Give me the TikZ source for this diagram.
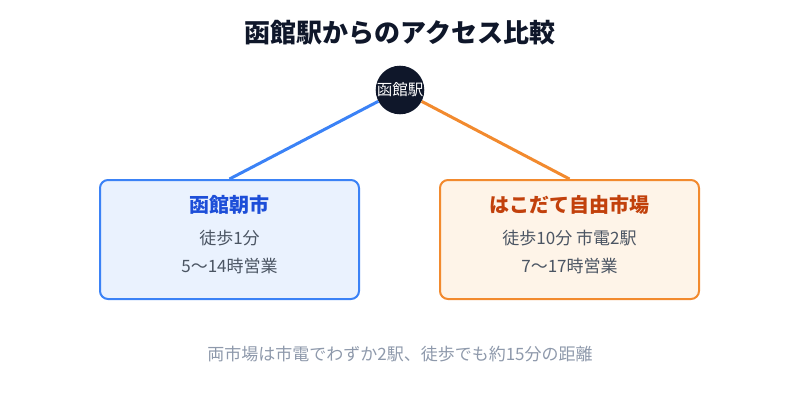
\documentclass[tikz,border=0pt]{standalone}
\usepackage{fontspec}
\setmainfont{Noto Sans CJK JP}
\usetikzlibrary{positioning}

\definecolor{navy}{HTML}{0F172A}
\definecolor{asablue}{HTML}{3B82F6}
\definecolor{asafill}{HTML}{EAF2FE}
\definecolor{asatext}{HTML}{1D4ED8}
\definecolor{jiyuorange}{HTML}{F28A2E}
\definecolor{jiyufill}{HTML}{FEF4E8}
\definecolor{jiyutext}{HTML}{C2410C}
\definecolor{bodygray}{HTML}{4B5563}
\definecolor{notegray}{HTML}{8E99AB}

\begin{document}
\begin{tikzpicture}[x=1pt, y=-1pt,
    box/.style={draw, line width=2pt, rounded corners=8pt, minimum width=259pt, minimum height=119pt, inner sep=0pt},
    boxtitle/.style={inner sep=0pt, font=\fontsize{20}{22}\selectfont\bfseries},
    boxline/.style={inner sep=0pt, text=bodygray, font=\fontsize{17}{19}\selectfont},
    link/.style={line width=3pt}]
    \useasboundingbox (0,0) rectangle (800,420);

    % Title
    \node [inner sep=0pt, text=navy, font=\fontsize{26}{30}\selectfont\bfseries] (title) at (400,33) {函館駅からのアクセス比較};

    % Station {hub}
    \node [circle, fill=navy, minimum size=48pt, inner sep=0pt, text=white, font=\fontsize{15.5}{17}\selectfont] (hub) at (400,90) {函館駅};

    % Markets {asaichi, jiyu}
    \node [box, draw=asablue, fill=asafill]       (asaichi) at (229.5,239.5) {};
    \node [box, draw=jiyuorange, fill=jiyufill]   (jiyu)    at (569.5,239.5) {};

    \node [boxtitle, text=asatext]  (asaichiname) at (229.5,205) {函館朝市};
    \node [boxline]                 (asaichiwalk) at (229.5,238) {徒歩1分};
    \node [boxline]                 (asaichihour) at (229.5,266) {5〜14時営業};

    \node [boxtitle, text=jiyutext] (jiyuname) at (569.5,205) {はこだて自由市場};
    \node [boxline]                 (jiyuwalk) at (569.5,238) {徒歩10分 市電2駅};
    \node [boxline]                 (jiyuhour) at (569.5,266) {7〜17時営業};

    % Paths
    \draw [link, asablue]    (hub) -- (asaichi.north);
    \draw [link, jiyuorange] (hub) -- (jiyu.north);

    % Note
    \node [inner sep=0pt, text=notegray, font=\fontsize{17}{19}\selectfont] (note) at (400,354) {両市場は市電でわずか2駅、徒歩でも約15分の距離};
\end{tikzpicture}
\end{document}
